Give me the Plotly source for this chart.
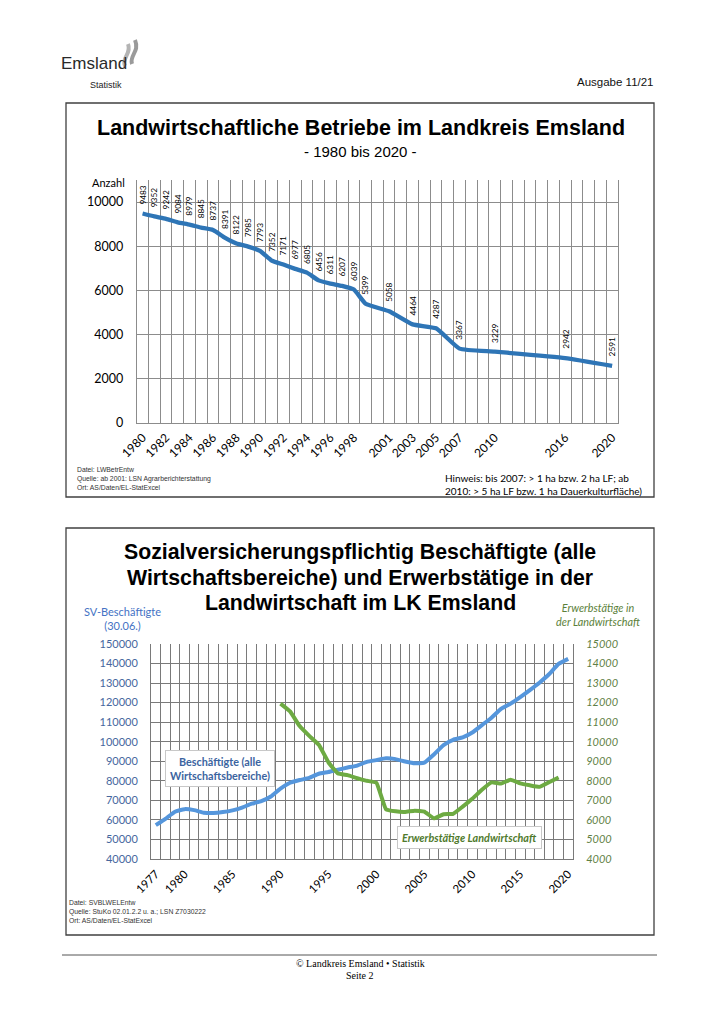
import plotly.graph_objects as go

W, H = 724, 1024


def px(x):
    return x / W


def py(y):
    return 1 - y / H


# ---------------- data: chart 1 ----------------
years_top = list(range(1980, 2000)) + [2001, 2003, 2005, 2007, 2010, 2016, 2020]
betriebe = [9483, 9352, 9242, 9084, 8979, 8845, 8737, 8391, 8122, 7985,
            7793, 7352, 7171, 6977, 6805, 6456, 6311, 6207, 6039, 5399,
            5058, 4464, 4287, 3367, 3229, 2942, 2591]
top_tick_years = [1980, 1982, 1984, 1986, 1988, 1990, 1992, 1994, 1996, 1998,
                  2001, 2003, 2005, 2007, 2010, 2016, 2020]
top_tick_labels = [str(v) for v in top_tick_years]
top_y_ticks = [0, 2000, 4000, 6000, 8000, 10000]
top_y_labels = [str(v) for v in top_y_ticks]

# ---------------- data: chart 2 ----------------
years_sv = list(range(1977, 2021))
sv_beschaeftigte = [57300, 60500, 64200, 65500, 65000, 63700, 63500, 64000, 64900, 66300,
                    68300, 69600, 72000, 76000, 79000, 80400, 81500, 83600, 84500, 85700,
                    86800, 87800, 89700, 90600, 91500, 91100, 89900, 89000, 89300, 93500,
                    98300, 101000, 102200, 104700, 108500, 112300, 116800, 119500, 122800, 126400,
                    130200, 134500, 139800, 142400]
years_lw = list(range(1990, 2020))
erwerbstaetige_lw = [11950, 11550, 10800, 10300, 9850, 8950, 8370, 8290, 8130, 8000,
                     7900, 6550, 6440, 6410, 6470, 6420, 6080, 6290, 6310, 6680,
                     7080, 7540, 7920, 7860, 8060, 7870, 7770, 7690, 7930, 8170]
bottom_tick_years = [1977, 1980, 1985, 1990, 1995, 2000, 2005, 2010, 2015, 2020]
bottom_tick_labels = [str(v) for v in bottom_tick_years]
left_ticks = list(range(40000, 150001, 10000))
left_labels = [str(v) for v in left_ticks]
right_ticks = list(range(4000, 15001, 1000))
right_labels = [str(v) for v in right_ticks]

CAL = "Lato"
ARIAL = "Liberation Sans"
GRID1 = "#8c8c8c"
GRID2 = "#7a7a7a"

fig = go.Figure()

fig.add_trace(go.Scatter(
    x=years_top, y=betriebe, mode="lines", xaxis="x", yaxis="y",
    line=dict(color="#2E75B6", width=4.3, shape="spline", smoothing=0.4),
    hoverinfo="skip", showlegend=False))

fig.add_trace(go.Scatter(
    x=years_sv, y=sv_beschaeftigte, mode="lines", xaxis="x2", yaxis="y2",
    line=dict(color="#5596DC", width=4, shape="spline", smoothing=0.4),
    hoverinfo="skip", showlegend=False))

fig.add_trace(go.Scatter(
    x=years_lw, y=erwerbstaetige_lw, mode="lines", xaxis="x2", yaxis="y3",
    line=dict(color="#6DAA42", width=4, shape="spline", smoothing=0.3),
    hoverinfo="skip", showlegend=False))

annotations = []

# data labels chart 1
for yr, v in zip(years_top, betriebe):
    annotations.append(dict(
        x=yr, y=v, xref="x", yref="y", text=str(v), showarrow=False,
        textangle=-90, yanchor="bottom", xanchor="center", yshift=7,
        font=dict(family=CAL, size=8.3, color="#000")))


def txt(x, y, text, size, family=ARIAL, color="#000", xanchor="center", yanchor="middle", **kw):
    annotations.append(dict(
        x=px(x), y=py(y), xref="paper", yref="paper", text=text, showarrow=False,
        xanchor=xanchor, yanchor=yanchor, align=kw.pop("align", "left"),
        font=dict(family=family, size=size, color=color), **kw))


# header
txt(94, 63, "Emsland", 17, color="#2a2a2a")
txt(106, 85, "Statistik", 9, color="#222")
txt(656, 82, "Ausgabe 11/21", 11.5, xanchor="right", color="#111")

# chart 1 texts
txt(361, 128, "<b>Landwirtschaftliche Betriebe im Landkreis Emsland</b>", 21.5)
txt(360, 151, "- 1980 bis 2020 -", 15)
txt(127, 182, "Anzahl", 11, family=CAL, xanchor="right")
txt(75, 478, "Datei: LWBetrEntw<br>Quelle: ab 2001: LSN Agrarberichterstattung<br>Ort: AS/Daten/EL-StatExcel",
    6.8, color="#333", xanchor="left")
txt(443, 484, "Hinweis: bis 2007: > 1 ha bzw. 2 ha LF; ab<br>2010: > 5 ha LF bzw. 1 ha Dauerkulturfläche)",
    10, family=CAL, xanchor="left")

# chart 2 texts
txt(360, 552, "<b>Sozialversicherungspflichtig Beschäftigte (alle</b>", 21.3)
txt(360, 578, "<b>Wirtschaftsbereiche) und Erwerbstätige in der</b>", 21.3)
txt(360, 603, "<b>Landwirtschaft im LK Emsland</b>", 21.3)
txt(122, 618, "SV-Beschäftigte<br>(30.06.)", 11, family=CAL, color="#4472C4", align="center")
txt(598, 614, "<i>Erwerbstätige in<br>der Landwirtschaft</i>", 10.8, family=CAL, color="#5B7F3A", align="center")
txt(220, 768, "<b>Beschäftigte (alle<br>Wirtschaftsbereiche)</b>", 10.8, family=CAL, color="#3B64A0",
    align="center", bgcolor="white", bordercolor="#c8c8c8", borderwidth=1, borderpad=4)
txt(470, 837, "<b><i>Erwerbstätige Landwirtschaft</i></b>", 10.8, family=CAL, color="#4F7A2C",
    align="center", bgcolor="white", bordercolor="#c8c8c8", borderwidth=1, borderpad=4)
txt(67, 911, "Datei: SVBLWELEntw<br>Quelle: StuKo 02.01.2.2 u. a.; LSN Z7030222<br>Ort: AS/Daten/EL-StatExcel",
    6.8, color="#333", xanchor="left")

# footer
txt(360, 963, "© Landkreis Emsland • Statistik", 10, family="Liberation Serif")
txt(360, 975, "Seite 2", 10, family="Liberation Serif")

shapes = [
    dict(type="rect", xref="paper", yref="paper", x0=px(66), x1=px(654), y0=py(103), y1=py(497),
         line=dict(color="#404040", width=1.3)),
    dict(type="rect", xref="paper", yref="paper", x0=px(66), x1=px(654), y0=py(528), y1=py(935),
         line=dict(color="#404040", width=1.3)),
    dict(type="line", xref="paper", yref="paper", x0=px(62), x1=px(657), y0=py(955), y1=py(955),
         line=dict(color="#555", width=1)),
]


def logo_path(pts):
    (x0, y0), (cx1, cy1), (cx2, cy2), (x1, y1) = pts
    return (f"M {px(x0)} {py(y0)} C {px(cx1)} {py(cy1)} {px(cx2)} {py(cy2)} {px(x1)} {py(y1)}")


shapes.append(dict(type="path", xref="paper", yref="paper",
                   path=logo_path([(125, 66), (121, 58), (132, 54), (128, 44)]),
                   line=dict(color="#b4b4b4", width=4)))
shapes.append(dict(type="path", xref="paper", yref="paper",
                   path=logo_path([(132, 64), (129, 55), (140, 52), (135, 40)]),
                   line=dict(color="#9a9a9a", width=4)))

fig.update_layout(
    template="none",
    width=W, height=H, margin=dict(l=0, r=0, t=0, b=0, pad=0, autoexpand=False),
    paper_bgcolor="white", plot_bgcolor="white", showlegend=False,
    annotations=annotations, shapes=shapes,
    xaxis=dict(
        domain=[px(136.7), px(618)], anchor="y", range=[1979.5, 2020.5], automargin=False,
        tickmode="array", tickvals=top_tick_years, ticktext=top_tick_labels,
        tickangle=-45, showgrid=False, zeroline=False,
        showline=True, linecolor=GRID1, linewidth=1,
        ticks="outside", ticklen=2, tickcolor="rgba(0,0,0,0)",
        tickfont=dict(family=CAL, size=12, color="#000"),
        minor=dict(tick0=1979.5, dtick=1, showgrid=True, gridcolor=GRID1, gridwidth=1, ticks=""),
    ),
    yaxis=dict(
        domain=[py(423), py(180)], anchor="x", range=[0, 11000], automargin=False,
        tickmode="array", tickvals=top_y_ticks, ticktext=top_y_labels,
        showgrid=True, gridcolor=GRID1, gridwidth=1,
        zeroline=False, showline=True, mirror=True, linecolor=GRID1, linewidth=1,
        ticks="outside", ticklen=10, tickcolor="rgba(0,0,0,0)",
        tickfont=dict(family=CAL, size=12.5, color="#000"),
    ),
    xaxis2=dict(
        domain=[px(151), px(573)], anchor="y2", range=[1976.5, 2020.5], automargin=False,
        tickmode="array", tickvals=bottom_tick_years, ticktext=bottom_tick_labels,
        tickangle=-45, showgrid=False, zeroline=False,
        showline=True, linecolor=GRID2, linewidth=1,
        ticks="outside", ticklen=3, tickcolor="rgba(0,0,0,0)",
        tickfont=dict(family=CAL, size=11.5, color="#000"),
        minor=dict(tick0=1976.5, dtick=1, showgrid=True, gridcolor=GRID2, gridwidth=1, ticks=""),
    ),
    yaxis2=dict(
        domain=[py(859), py(644)], anchor="x2", range=[40000, 150000], automargin=False,
        tickmode="array", tickvals=left_ticks, ticktext=left_labels,
        showgrid=True, gridcolor=GRID2, gridwidth=1,
        zeroline=False, showline=True, mirror=True, linecolor=GRID2, linewidth=1,
        ticks="outside", ticklen=10, tickcolor="rgba(0,0,0,0)",
        tickfont=dict(family=CAL, size=11, color="#46679E"),
    ),
    yaxis3=dict(
        domain=[py(859), py(644)], anchor="x2", overlaying="y2", side="right", automargin=False,
        range=[4000, 15000], tickmode="array", tickvals=right_ticks, ticktext=right_labels,
        showgrid=False, zeroline=False, showline=False,
        ticks="outside", ticklen=10, tickcolor="rgba(0,0,0,0)",
        tickfont=dict(family=CAL, size=11, color="#5F7F46", style="italic"),
    ),
)

fig.write_html("out.html", config={"displayModeBar": False},
               post_script="document.body.style.margin='0px';")
